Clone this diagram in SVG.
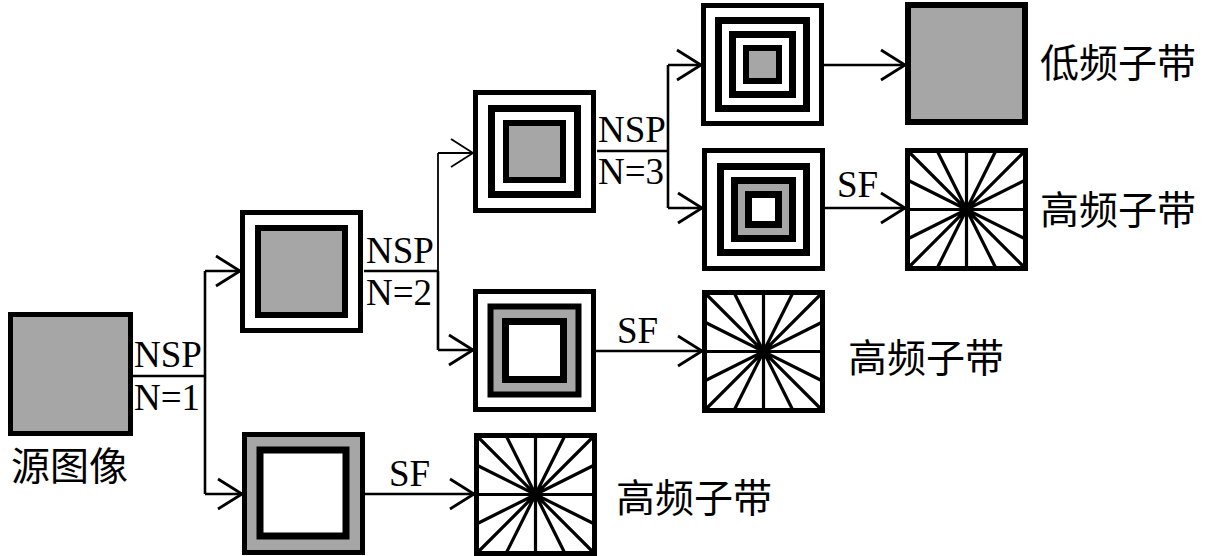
<svg xmlns="http://www.w3.org/2000/svg" width="1208" height="556" viewBox="0 0 1208 556">
<style>
.bk{fill:none;stroke:#000}
.g{fill:#a6a6a6;stroke:#000}
.w{fill:#fff;stroke:#000}
.ray{stroke:#000;stroke-width:3.2;fill:none}
.ln{stroke:#000;stroke-width:2.6;fill:none}
.thin{stroke:#000;stroke-width:1.8;fill:none}
.lat{font-family:"Liberation Serif","Times New Roman",serif;font-size:37px;fill:#000}
.cjk{font-family:"Noto Sans CJK SC","Noto Sans CJK JP",sans-serif;font-size:39px;fill:#000}
</style>
<defs>
<marker id="ah" markerUnits="userSpaceOnUse" markerWidth="40" markerHeight="40" viewBox="-30 -20 40 40" refX="0" refY="0" orient="auto" overflow="visible">
<path d="M-24,-15 L0,0 L-24,15" fill="none" stroke="#000" stroke-width="2.8"/>
</marker>
<marker id="aht" markerUnits="userSpaceOnUse" markerWidth="40" markerHeight="40" viewBox="-30 -20 40 40" refX="0" refY="0" orient="auto" overflow="visible">
<path d="M-22,-14 L0,0 L-22,14" fill="none" stroke="#000" stroke-width="1.8"/>
</marker>
<g id="radial">
<rect x="2.5" y="2.5" width="118" height="118" fill="#fff" stroke="#000" stroke-width="5"/>
<path class="ray" d="M2.5,2.5 L120.5,120.5 M120.5,2.5 L2.5,120.5 M61.5,2.5 L61.5,120.5 M2.5,61.5 L120.5,61.5 M32,2.5 L91,120.5 M91,2.5 L32,120.5 M2.5,32 L120.5,91 M2.5,91 L120.5,32"/>
</g>
</defs>
<rect width="1208" height="556" fill="#fff"/>

<g id="connectors">
<path class="ln" d="M133,376 H205 M205,271 V494"/>
<path class="ln" d="M205,271 H240" marker-end="url(#ah)"/>
<path class="ln" d="M205,494 H242" marker-end="url(#ah)"/>
<path class="ln" d="M364,271 H438 M438,271 V350"/>
<path class="thin" d="M438,271 V153"/>
<path class="thin" d="M438,153 H473" marker-end="url(#aht)"/>
<path class="ln" d="M438,350 H473" marker-end="url(#ah)"/>
<path class="ln" d="M597,151 H668 M668,65 V208"/>
<path class="ln" d="M668,65 H701" marker-end="url(#ah)"/>
<path class="ln" d="M668,208 H702" marker-end="url(#ah)"/>
<path class="ln" d="M824,65 H905" marker-end="url(#ah)"/>
<path class="ln" d="M825,208 H905" marker-end="url(#ah)"/>
<path class="ln" d="M596,351 H702" marker-end="url(#ah)"/>
<path class="ln" d="M365,494 H474" marker-end="url(#ah)"/>
</g>

<g id="labels">
<text class="lat" x="134" y="367">NSP</text>
<text class="lat" x="134" y="410">N=1</text>
<text class="lat" x="366" y="263">NSP</text>
<text class="lat" x="366" y="305">N=2</text>
<text class="lat" x="598" y="142">NSP</text>
<text class="lat" x="598" y="184">N=3</text>
<text class="lat" x="389" y="486" font-size="35">SF</text>
<text class="lat" x="617" y="343" font-size="35">SF</text>
<text class="lat" x="837" y="197" font-size="35">SF</text>
</g>

<g id="source">
<rect class="g" x="10.5" y="314.5" width="120" height="119" stroke-width="5"/>
<text class="cjk" x="11" y="480" font-size="38">源图像</text>
</g>

<g id="level1-low" transform="translate(240,210)">
<rect class="w" x="2.5" y="2.5" width="118" height="118" stroke-width="5"/>
<rect class="g" x="18" y="18" width="87" height="87" stroke-width="6"/>
</g>

<g id="level1-high" transform="translate(242,432)">
<rect class="g" x="2.5" y="2.5" width="118" height="118" stroke-width="5"/>
<rect class="w" x="18" y="18" width="86" height="86" stroke-width="7"/>
</g>

<g id="level1-sf" transform="translate(474,433)"><use href="#radial"/></g>
<g id="level1-label"><text class="cjk" x="616" y="512">高频子带</text></g>

<g id="level2-low" transform="translate(473,90)">
<rect class="w" x="2.5" y="2.5" width="118" height="118" stroke-width="5"/>
<rect class="w" x="18.5" y="18.5" width="86" height="86" stroke-width="7"/>
<rect class="g" x="33" y="33" width="57" height="57" stroke-width="6"/>
</g>

<g id="level2-high" transform="translate(473,289)">
<rect class="w" x="2.5" y="2.5" width="118" height="118" stroke-width="5"/>
<rect class="g" x="17.5" y="17.5" width="88" height="88" stroke-width="6"/>
<rect class="w" x="32.5" y="32.5" width="58" height="58" stroke-width="7"/>
</g>

<g id="level2-sf" transform="translate(702,290)"><use href="#radial"/></g>
<g id="level2-label"><text class="cjk" x="848" y="372">高频子带</text></g>

<g id="level3-low" transform="translate(701,3)">
<rect class="w" x="2.5" y="2.5" width="118" height="118" stroke-width="5"/>
<rect class="w" x="17.5" y="17.5" width="88" height="88" stroke-width="7"/>
<rect class="w" x="31.5" y="31.5" width="60" height="60" stroke-width="7"/>
<rect class="g" x="45" y="45" width="33" height="33" stroke-width="6"/>
</g>

<g id="level3-high" transform="translate(702,148)">
<rect class="w" x="2.5" y="2.5" width="118" height="118" stroke-width="5"/>
<rect class="w" x="18.5" y="18.5" width="86" height="86" stroke-width="7"/>
<rect class="g" x="32.5" y="32.5" width="58" height="58" stroke-width="7"/>
<rect class="w" x="46.5" y="46.5" width="30" height="30" stroke-width="7"/>
</g>

<g id="lowpass-out">
<rect class="g" x="908" y="5" width="117" height="117" stroke-width="6"/>
<text class="cjk" x="1040" y="77">低频子带</text>
</g>

<g id="level3-sf" transform="translate(905,148)"><use href="#radial"/></g>
<g id="level3-label"><text class="cjk" x="1040" y="224">高频子带</text></g>
</svg>
